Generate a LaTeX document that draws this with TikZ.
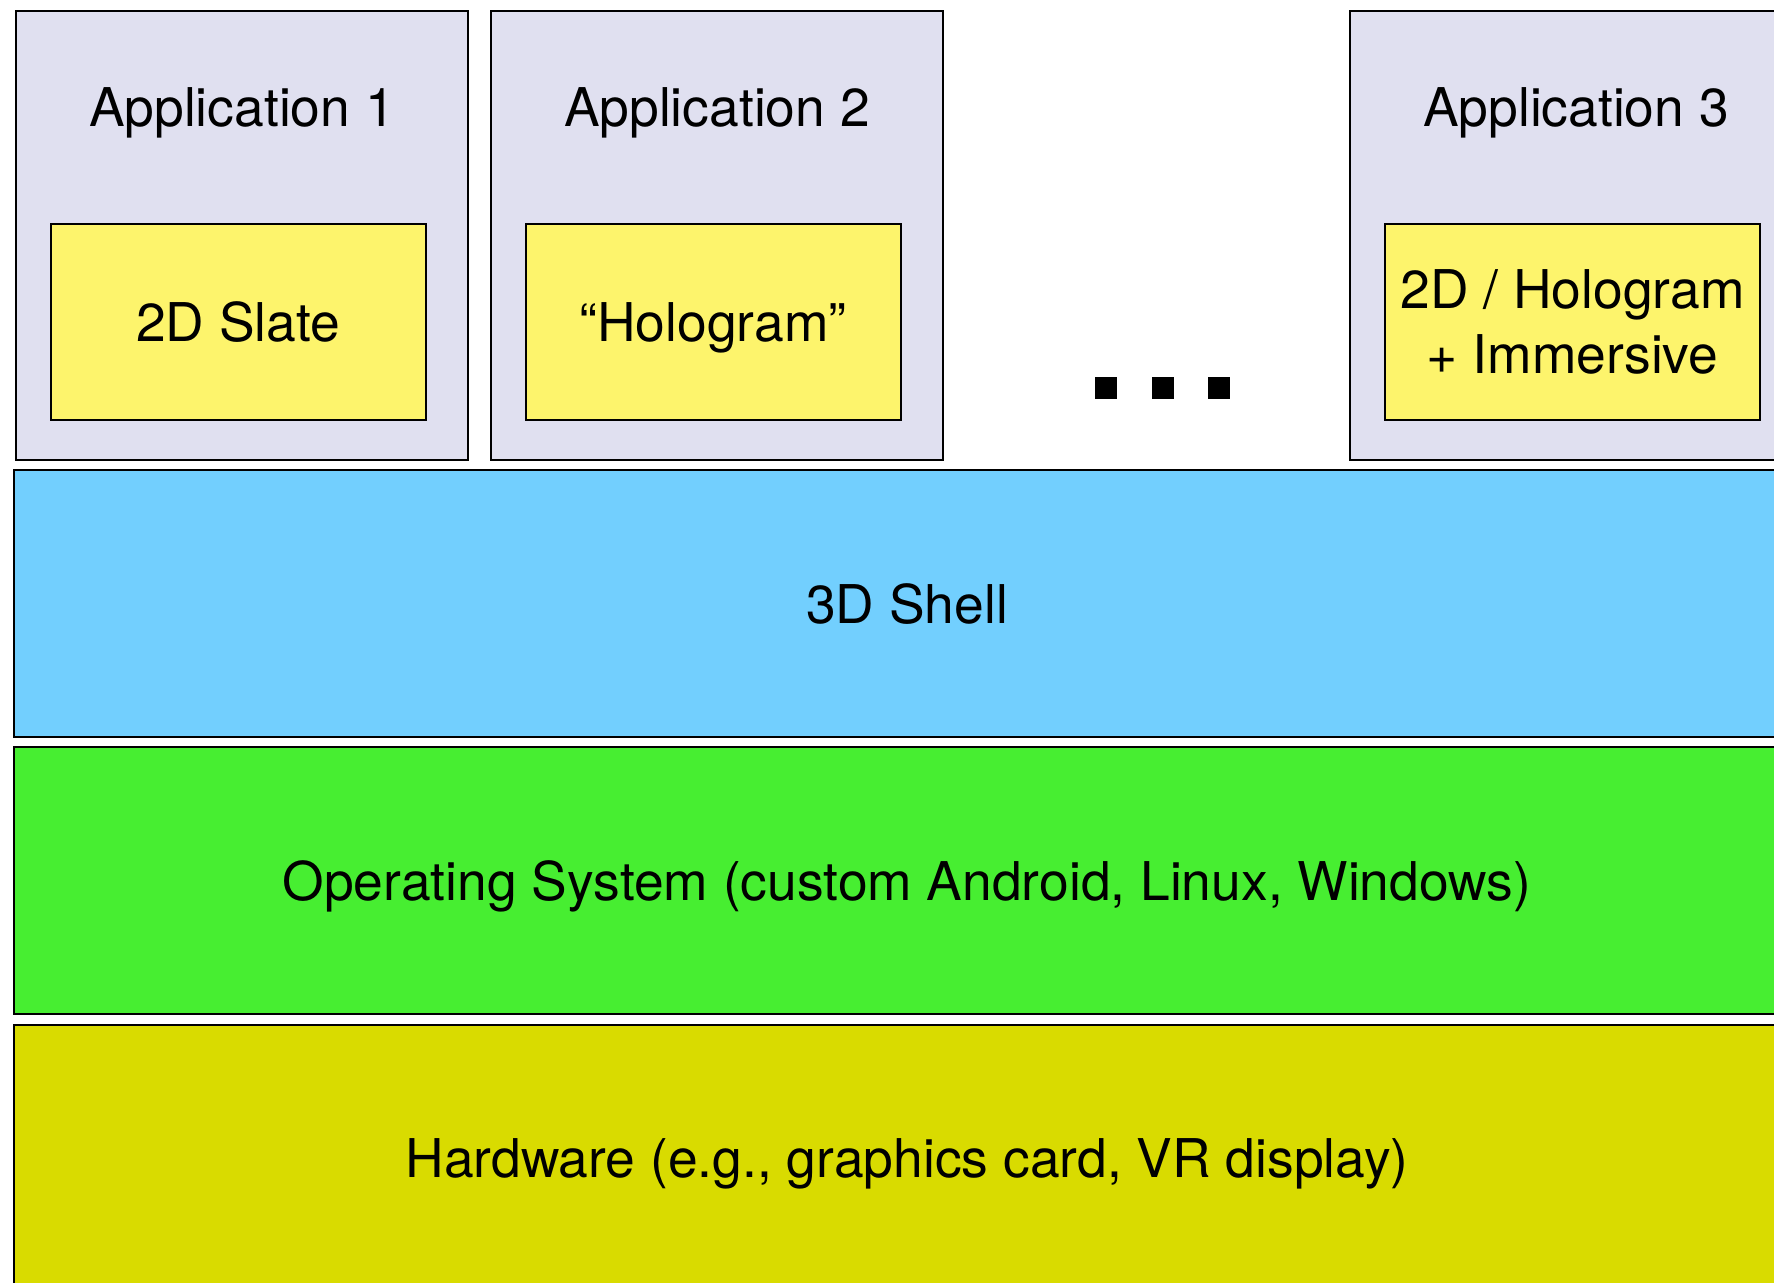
\documentclass[tikz,border=0pt]{standalone}
\usepackage{fontspec}
\setmainfont{TeX Gyre Heros}
\definecolor{appfill}{RGB}{224,224,240}
\definecolor{viewfill}{RGB}{253,244,108}
\definecolor{shellfill}{RGB}{114,207,254}
\definecolor{osfill}{RGB}{71,238,49}
\definecolor{hwfill}{RGB}{217,219,0}
\newcommand{\labelfont}{\fontsize{26.7}{32.5}\selectfont}
\tikzset{
  box/.style={draw=black, line width=1pt, rectangle, inner sep=0pt},
  appbox/.style={box, fill=appfill, minimum width=226pt, minimum height=224.5pt},
  viewbox/.style={box, fill=viewfill, minimum width=187.5pt, minimum height=98pt,
    align=center, font=\labelfont, text depth=0pt},
  layer/.style={box, minimum width=893pt, minimum height=133.5pt,
    font=\labelfont, text depth=0pt},
  applabel/.style={inner sep=0pt, font=\labelfont},
  dot/.style={fill=black, minimum size=11pt, inner sep=0pt, rectangle}
}
\begin{document}
\begin{tikzpicture}[x=1pt, y=1pt]
  \useasboundingbox (0,0) rectangle (887,-641);
  \clip (0,0) rectangle (887,-641);
  \fill[white] (0,0) rectangle (887,-641);

  % application windows
  \node[appbox] (app1) at (121,-117.75) {};
  \node[appbox] (app2) at (358.5,-117.75) {};
  \node[appbox] (app3) at (788,-117.75) {};
  \node[applabel] (app1t) at (121,-56.5) {Application 1};
  \node[applabel] (app2t) at (358.5,-56.5) {Application 2};
  \node[applabel] (app3t) at (788,-56.5) {Application 3};

  % content type of each application
  \node[viewbox] (v1) at (119,-161) {2D Slate};
  \node[viewbox] (v2) at (356.5,-161) {“Hologram”};
  \node[viewbox] (v3) at (786.25,-161) {2D / Hologram\\+ Immersive};

  % ellipsis between applications
  \node[dot] (d1) at (553,-194) {};
  \node[dot] (d2) at (581.5,-194) {};
  \node[dot] (d3) at (609.5,-194) {};

  % system layers
  \node[layer, fill=shellfill] (shell) at (453.5,-301.75) {3D Shell};
  \node[layer, fill=osfill] (os) at (453.5,-440.25) {Operating System (custom Android, Linux, Windows)};
  \node[layer, fill=hwfill] (hw) at (453.5,-579.25) {Hardware (e.g., graphics card, VR display)};
\end{tikzpicture}
\end{document}
